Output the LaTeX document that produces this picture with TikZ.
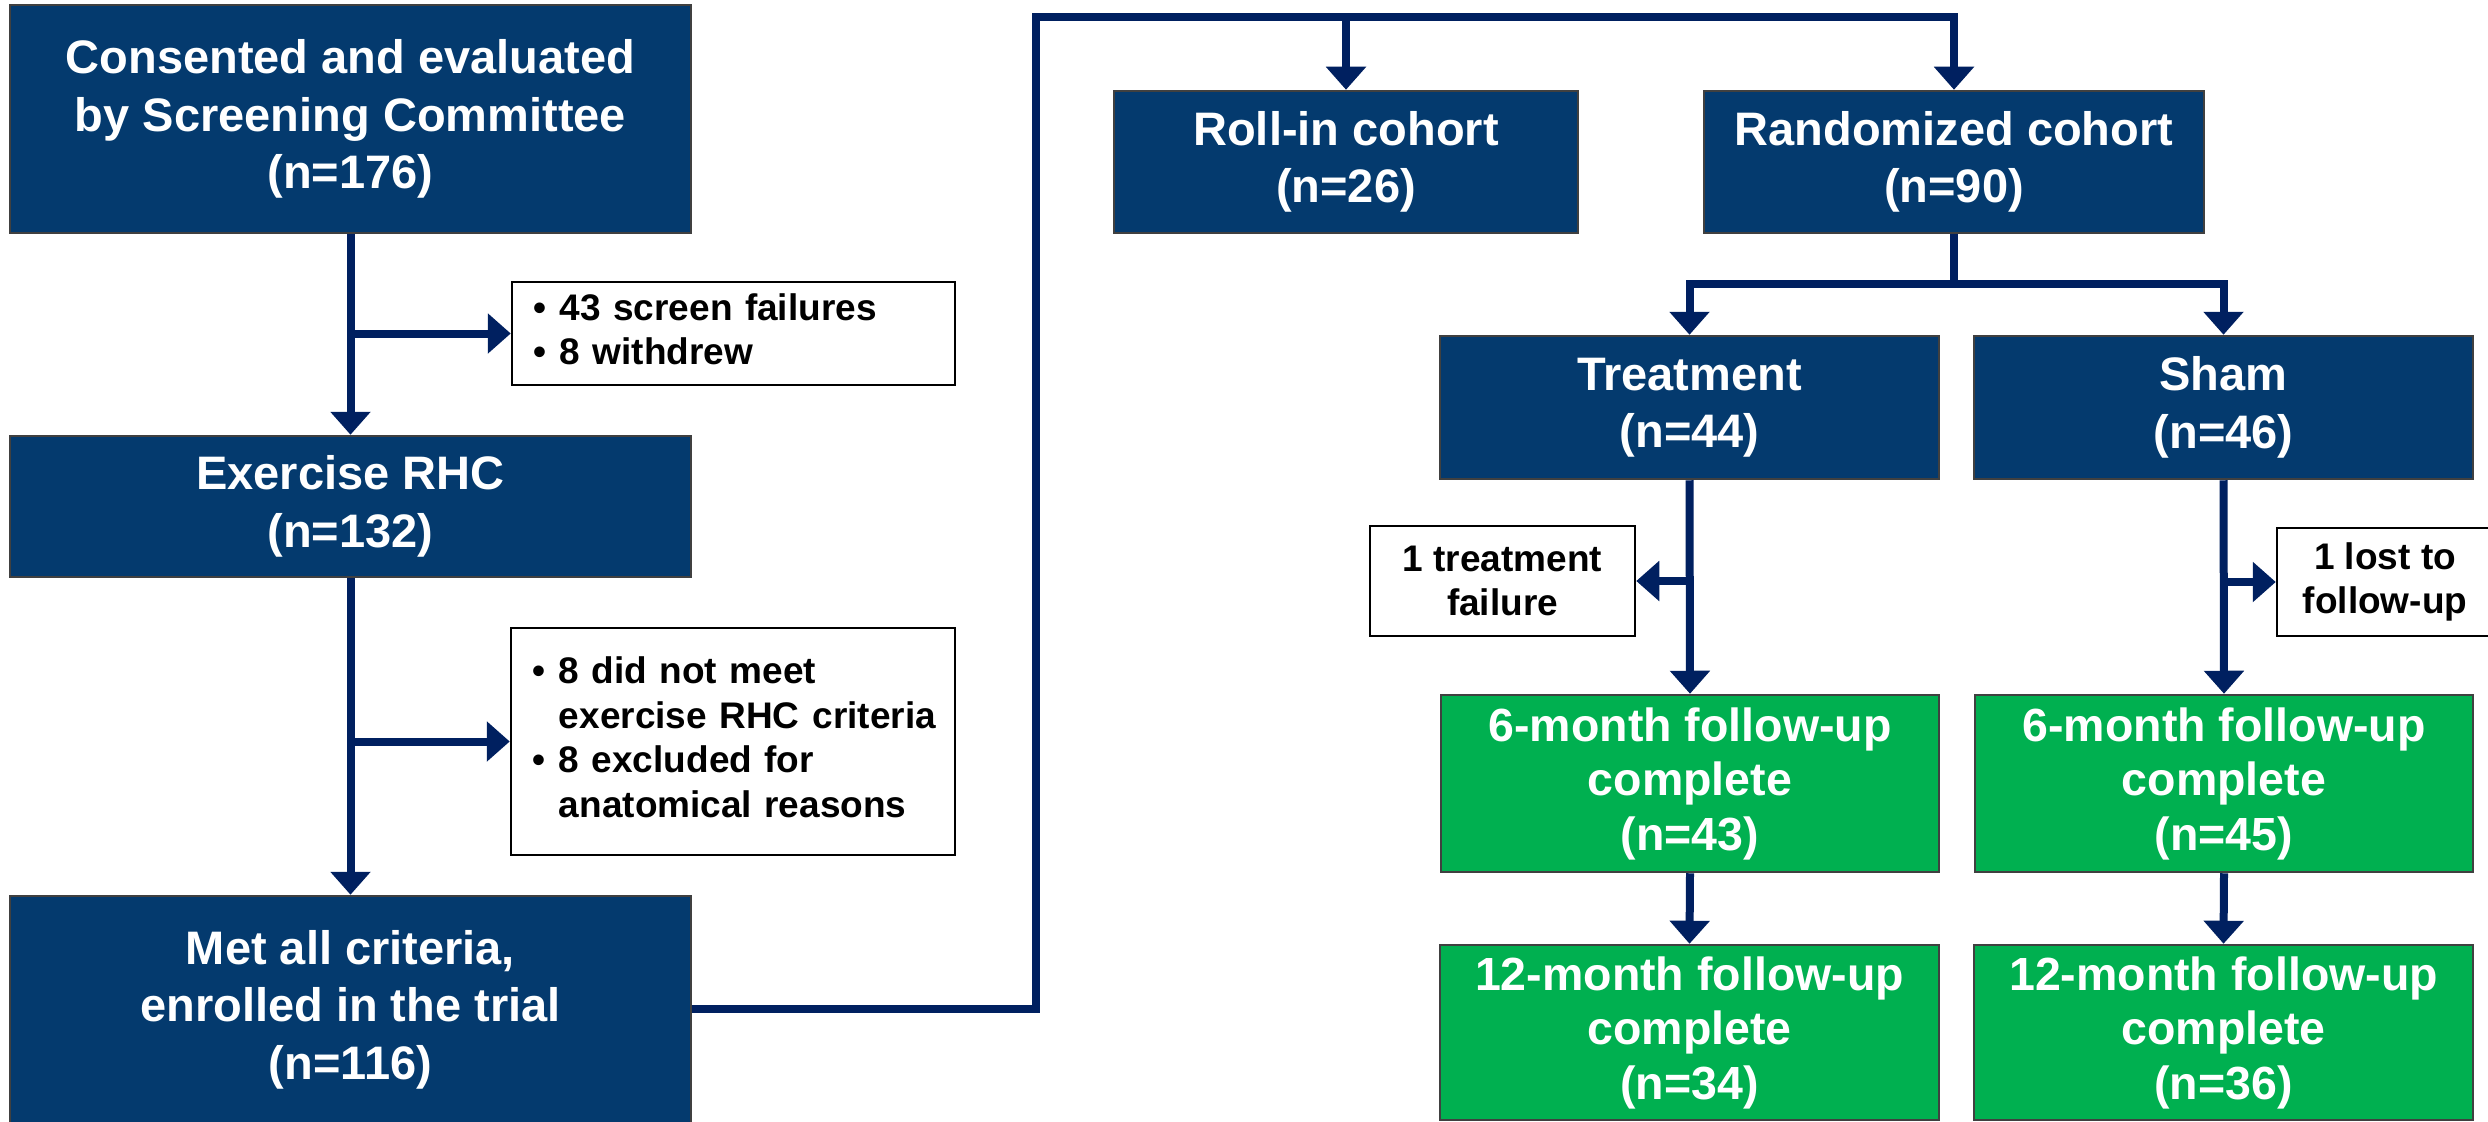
\documentclass[tikz,border=0pt]{standalone}
\usepackage{fontspec}
\setmainfont{Liberation Sans}
\usetikzlibrary{arrows.meta}
\definecolor{boxblue}{RGB}{4,58,110}
\definecolor{boxgreen}{RGB}{0,176,80}
\definecolor{boxgray}{RGB}{64,64,64}
\definecolor{linenavy}{RGB}{0,32,96}
\begin{document}
\begin{tikzpicture}[x=1pt,y=-1pt,
  mainbox/.style={draw=boxgray, line width=2.5pt, text=white, align=center, inner sep=0pt,
    font=\bfseries\fontsize{47}{57.5}\selectfont, execute at begin node={\rule{0pt}{0.94em}}},
  bluebox/.style={mainbox, fill=boxblue},
  greenbox/.style={mainbox, fill=boxgreen, font=\bfseries\fontsize{46.5}{54.5}\selectfont},
  notebox/.style={draw=black, line width=2.5pt, fill=white, text=black, inner sep=0pt,
    font=\bfseries\fontsize{37}{44.5}\selectfont},
  smallnote/.style={notebox, align=center, execute at begin node={\rule{0pt}{0.9em}}},
  flow/.style={draw=linenavy, line width=8pt},
  arrowline/.style={flow, -{Triangle[length=23pt,width=39pt]}}
]
\useasboundingbox (0,0) rectangle (2488,1121);
\fill[white] (0,0) rectangle (2488,1121);

% left column
\node[bluebox, minimum width=681pt, minimum height=228pt] (b1) at (350.5,119)
  {Consented and evaluated\\by Screening Committee\\(n=176)};
\node[bluebox, minimum width=681pt, minimum height=141pt] (b2) at (350.5,506.5)
  {Exercise RHC\\(n=132)};
\node[bluebox, minimum width=681pt, minimum height=227pt] (b3) at (350.5,1009.5)
  {Met all criteria,\\enrolled in the trial\\(n=116)};

\node[notebox, minimum width=443pt, minimum height=103pt, text width=401pt, align=left] (s1) at (733.5,333.5)
  {\begin{tabular}{@{}l@{\hspace{14pt}}l@{}}•&43 screen failures\\•&8 withdrew\end{tabular}};
\node[notebox, minimum width=444pt, minimum height=227pt, text width=402pt, align=left] (s2) at (733,741.5)
  {\begin{tabular}{@{}l@{\hspace{14pt}}l@{}}•&8 did not meet\\&exercise RHC\hspace{13pt}criteria\\•&8 excluded for\\&anatomical reasons\end{tabular}};

% right part
\node[bluebox, minimum width=464pt, minimum height=142pt] (roll) at (1346,162)
  {Roll-in cohort\\(n=26)};
\node[bluebox, minimum width=500pt, minimum height=142pt] (rand) at (1954,162)
  {Randomized cohort\\(n=90)};
\node[bluebox, minimum width=499pt, minimum height=143pt] (treat) at (1689.5,407.5)
  {Treatment\\(n=44)};
\node[bluebox, minimum width=499pt, minimum height=143pt] (sham) at (2223.5,407.5)
  {Sham\\(n=46)};

\node[smallnote, minimum width=265pt, minimum height=110pt] (tf) at (1502.5,581)
  {1 treatment\\failure};
\node[smallnote, minimum width=216pt, minimum height=108pt] (lost) at (2385,582)
  {1 lost to\\follow-up};

\node[greenbox, minimum width=498pt, minimum height=177pt] (g6t) at (1690,783.5)
  {6-month follow-up\\complete\\(n=43)};
\node[greenbox, minimum width=498pt, minimum height=177pt] (g6s) at (2224,783.5)
  {6-month follow-up\\complete\\(n=45)};
\node[greenbox, minimum width=499pt, minimum height=175pt] (g12t) at (1689.5,1032.5)
  {12-month follow-up\\complete\\(n=34)};
\node[greenbox, minimum width=499pt, minimum height=175pt] (g12s) at (2223.5,1032.5)
  {12-month follow-up\\complete\\(n=36)};

% connectors
\draw[arrowline] (b1.south) -- (b2.north);
\draw[arrowline] (b1.south |- s1.west) -- (s1.west);
\draw[arrowline] (b2.south) -- (b3.north);
\draw[arrowline] (b2.south |- s2.west) -- (s2.west);

\coordinate (loopB) at (1036,1009);
\coordinate (loopT) at (1036,17);
\draw[arrowline] (b3.east |- loopB) -- (loopB) -- (loopT) -- (rand.north |- loopT) -- (rand.north);
\draw[arrowline] (roll.north |- loopT) -- (roll.north);

\coordinate (split) at (1954,284);
\draw[flow] (rand.south) -- (split);
\draw[arrowline] (split) -| (treat.north);
\draw[arrowline] (split) -| (sham.north);

\draw[arrowline] (treat.south) -- (g6t.north);
\draw[arrowline] (treat.south |- tf.east) -- (tf.east);
\draw[arrowline] (sham.south) -- (g6s.north);
\draw[arrowline] (sham.south |- lost.west) -- (lost.west);
\draw[arrowline] (g6t.south) -- (g12t.north);
\draw[arrowline] (g6s.south) -- (g12s.north);
\end{tikzpicture}
\end{document}
